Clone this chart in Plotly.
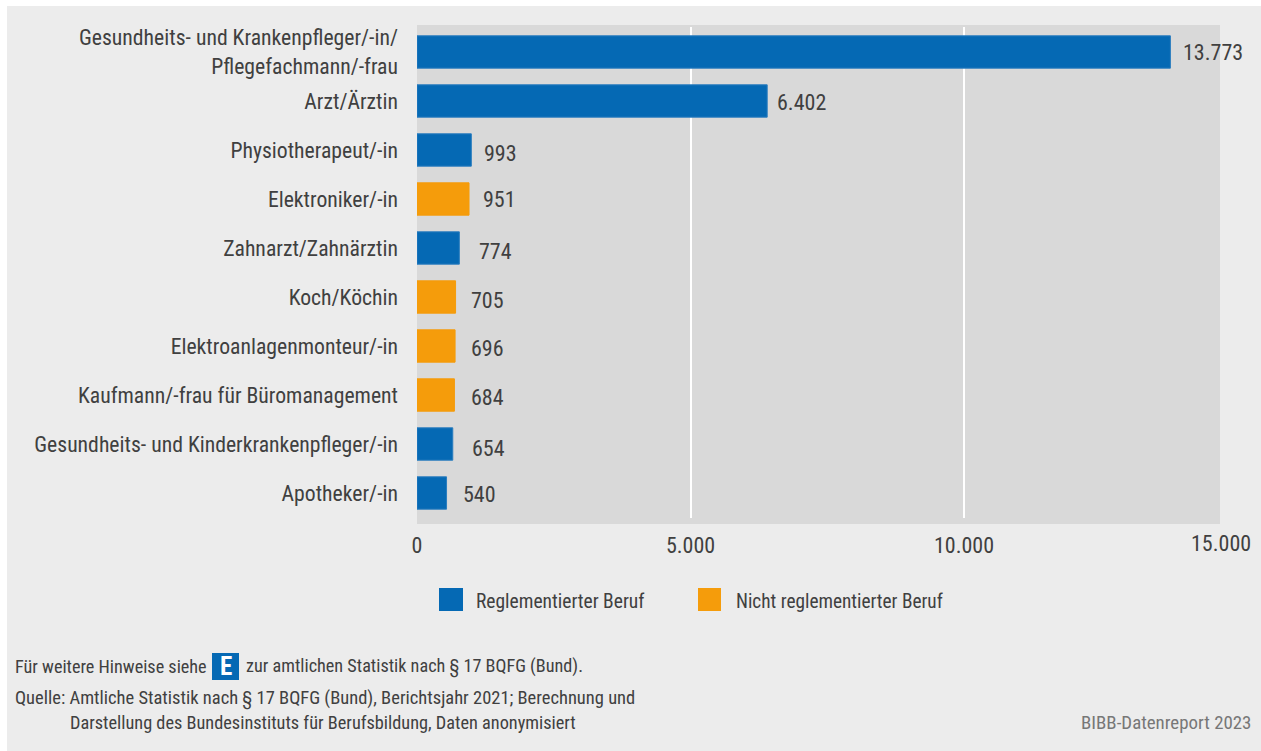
import plotly.graph_objects as go

categories = [
    "Gesundheits- und Krankenpfleger/-in/<br>Pflegefachmann/-frau",
    "Arzt/Ärztin",
    "Physiotherapeut/-in",
    "Elektroniker/-in",
    "Zahnarzt/Zahnärztin",
    "Koch/Köchin",
    "Elektroanlagenmonteur/-in",
    "Kaufmann/-frau für Büromanagement",
    "Gesundheits- und Kinderkrankenpfleger/-in",
    "Apotheker/-in",
]
values = [13773, 6402, 993, 951, 774, 705, 696, 684, 654, 540]
regulated = [True, True, True, False, True, False, False, False, True, True]
value_labels = ["13.773", "6.402", "993", "951", "774", "705", "696", "684", "654", "540"]
tick_values = [0, 5000, 10000]
tick_labels = ["0", "5.000", "10.000"]
series_names = ["Reglementierter Beruf", "Nicht reglementierter Beruf"]

BLUE = "#0569B4"
ORANGE = "#F59C0B"
BG = "#ECECEC"
PLOT = "#D9D9D9"
TXT = "#404040"
FONT = "Roboto Condensed"
W, H = 1261, 751
L, R, T, B = 417, 1220, 27, 518
AX_MAX = 14680

def px(x):
    return (x - L) / (R - L)
def py(y):
    return (B - y) / (B - T)

fig = go.Figure()
for flag, color, line, name in [(True, BLUE, "#2A7DBF", series_names[0]),
                                (False, ORANGE, ORANGE, series_names[1])]:
    fig.add_bar(
        y=[c for c, r in zip(categories, regulated) if r == flag],
        x=[v for v, r in zip(values, regulated) if r == flag],
        orientation="h", name=name, marker=dict(color=color, line=dict(color=line, width=1)),
        width=0.66, showlegend=False,
    )

annotations = []
xshift = [11, 8, 11, 12, 18, 13, 14, 15, 17, 14]
yshift = [-1, -2, -3, 0, -3, -3, -2, -2, -4, -1]
for c, v, t, dx, dy in zip(categories, values, value_labels, xshift, yshift):
    annotations.append(dict(x=v, y=c, xref="x", yref="y", text=t, showarrow=False,
                            xanchor="left", xshift=dx, yshift=dy,
                            font=dict(family=FONT, size=22, color=TXT)))

def note(x, y, text, size=18.3, color=TXT, xanchor="left"):
    annotations.append(dict(x=px(x), y=py(y), xref="paper", yref="paper", text=text,
                            showarrow=False, xanchor=xanchor, yanchor="middle", align="left",
                            font=dict(family=FONT, size=size, color=color)))

note(1221, 543, "15.000", size=22, xanchor="center")
note(474, 601, series_names[0], size=19.5)
note(734, 601, series_names[1], size=19.3)
note(13, 666, "Für weitere Hinweise siehe", size=18.2)
note(244, 666, "zur amtlichen Statistik nach § 17 BQFG (Bund).", size=18.2)
note(13, 698, "Quelle: Amtliche Statistik nach § 17 BQFG (Bund), Berichtsjahr 2021; Berechnung und", size=18.5)
note(68, 722, "Darstellung des Bundesinstituts für Berufsbildung, Daten anonymisiert")
note(1253, 722, "BIBB-Datenreport 2023", size=18.9, color="#777777", xanchor="right")
note(225.5, 666, "<b>E</b>", size=25, color="white", xanchor="center")

def rect(x0, y0, x1, y1, color, layer="above"):
    return dict(type="rect", xref="paper", yref="paper", x0=px(x0), x1=px(x1),
                y0=py(y0), y1=py(y1), fillcolor=color, line_width=0, layer=layer)

shapes = [
    rect(0, 0, W, 6, "white", "below"),
    rect(0, 0, 7, H, "white", "below"),
    rect(L, 25, R, 524, PLOT, "below"),
    rect(439, 588, 463, 611, BLUE),
    rect(698, 588, 721, 611, ORANGE),
    rect(212, 653, 239, 680, BLUE),
]

fig.update_layout(
    width=W, height=H, autosize=False,
    paper_bgcolor=BG, plot_bgcolor=PLOT,
    barmode="overlay",
    margin=dict(l=L, r=W - R, t=T, b=H - B, pad=0),
    shapes=shapes, annotations=annotations,
    font=dict(family=FONT, size=21.7, color=TXT),
    xaxis=dict(range=[0, AX_MAX], tickmode="array", tickvals=tick_values, ticktext=tick_labels,
               showgrid=True, gridcolor="white", gridwidth=2, zeroline=False, showline=False,
               ticks="", tickfont=dict(family=FONT, size=22, color=TXT), ticklabelstandoff=12),
    yaxis=dict(type="category", categoryorder="array", categoryarray=categories,
               range=[9.51, -0.51], showgrid=False, zeroline=False, showline=False, ticks="",
               tickfont=dict(family=FONT, size=21.7, color=TXT), ticklabelstandoff=18),
)
fig.write_html("out.html", config=dict(displayModeBar=False),
               post_script="document.body.style.margin='0';document.body.style.overflow='hidden';")
